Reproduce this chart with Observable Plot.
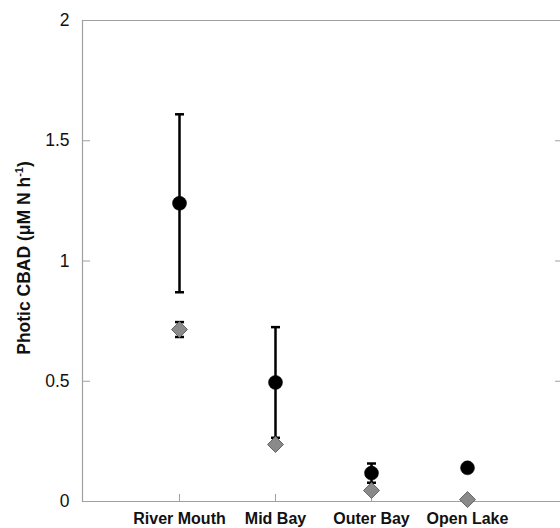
<!DOCTYPE html>
<html>
<head>
<meta charset="utf-8">
<script src="https://cdn.jsdelivr.net/npm/d3@7"></script>
<script src="https://cdn.jsdelivr.net/npm/@observablehq/plot@0.6"></script>
<style>
  body { margin: 0; background: #fff; }
  svg { font-family: "Liberation Sans", Arial, sans-serif; }
</style>
</head>
<body>
<div id="chart"></div>
<script>
const sites = ["River Mouth", "Mid Bay", "Outer Bay", "Open Lake"];
const circleMean = [1.24, 0.495, 0.118, 0.14];
const circleErr = [0.37, 0.23, 0.04, 0.01];
const diamondMean = [0.715, 0.237, 0.046, 0.008];
const diamondErr = [0.031, 0.01, 0.01, 0.005];
const yTicks = [0, 0.5, 1, 1.5, 2];

const circles = sites.map((s, i) => ({site: s, v: circleMean[i], lo: circleMean[i] - circleErr[i], hi: circleMean[i] + circleErr[i]}));
const diamonds = sites.map((s, i) => ({site: s, v: diamondMean[i], lo: diamondMean[i] - diamondErr[i], hi: diamondMean[i] + diamondErr[i]}));

const capSymbol = {
  draw(ctx, size) {
    const r = Math.sqrt(size / Math.PI);
    ctx.moveTo(-r, 0);
    ctx.lineTo(r, 0);
  }
};

const grey = "#a0a0a0";

const plot = Plot.plot({
  width: 560,
  height: 528,
  marginLeft: 82,
  marginRight: 0,
  marginTop: 20,
  marginBottom: 27,
  style: {fontFamily: "Liberation Sans, Arial, sans-serif", background: "white"},
  x: {type: "point", domain: sites, range: [82, 564], padding: 1},
  y: {domain: [0, 2], range: [501, 20]},
  marks: [
    Plot.ruleY([0, 2], {stroke: grey, strokeWidth: 1.2}),
    Plot.frame({anchor: "left", stroke: grey, strokeWidth: 1.2}),
    Plot.axisY({anchor: "left", ticks: yTicks, tickSize: -8, tickPadding: 21, stroke: grey, fontSize: 17.5, fill: "#111", label: null, tickFormat: d => String(d)}),
    Plot.axisY({anchor: "right", ticks: yTicks, tickSize: -6, tickFormat: () => "", stroke: grey, label: null}),
    Plot.axisX({anchor: "bottom", tickSize: -7, tickPadding: 18, stroke: grey, fontSize: 16, fontWeight: "bold", fill: "#111", label: null}),
    // diamond error bars
    Plot.ruleX(diamonds, {x: "site", y1: "lo", y2: "hi", stroke: "black", strokeWidth: 2.5}),
    Plot.dot(diamonds, {x: "site", y: "lo", symbol: capSymbol, r: 4.5, stroke: "black", strokeWidth: 2.5}),
    Plot.dot(diamonds, {x: "site", y: "hi", symbol: capSymbol, r: 4.5, stroke: "black", strokeWidth: 2.5}),
    // circle error bars
    Plot.ruleX(circles, {x: "site", y1: "lo", y2: "hi", stroke: "black", strokeWidth: 2.5}),
    Plot.dot(circles, {x: "site", y: "lo", symbol: capSymbol, r: 4.5, stroke: "black", strokeWidth: 2.5}),
    Plot.dot(circles, {x: "site", y: "hi", symbol: capSymbol, r: 4.5, stroke: "black", strokeWidth: 2.5}),
    // markers
    Plot.dot(diamonds, {x: "site", y: "v", symbol: "diamond2", r: 7.2, fill: "#8a8a8a", stroke: "#666", strokeWidth: 1}),
    Plot.dot(circles, {x: "site", y: "v", symbol: "circle", r: 7, fill: "black", stroke: "black", strokeWidth: 0.5})
  ]
});

const svg = d3.select(plot);
const lbl = svg.append("text")
  .attr("transform", "translate(30,258) rotate(-90)")
  .attr("text-anchor", "middle")
  .attr("font-family", "Liberation Sans, Arial, sans-serif")
  .attr("font-size", 17.5)
  .attr("font-weight", "bold")
  .attr("fill", "#111");
lbl.append("tspan").text("Photic CBAD (μM N h");
lbl.append("tspan").attr("dy", -7).attr("font-size", 11).text("-1");
lbl.append("tspan").attr("dy", 7).text(")");

document.getElementById("chart").append(plot);
</script>
</body>
</html>
